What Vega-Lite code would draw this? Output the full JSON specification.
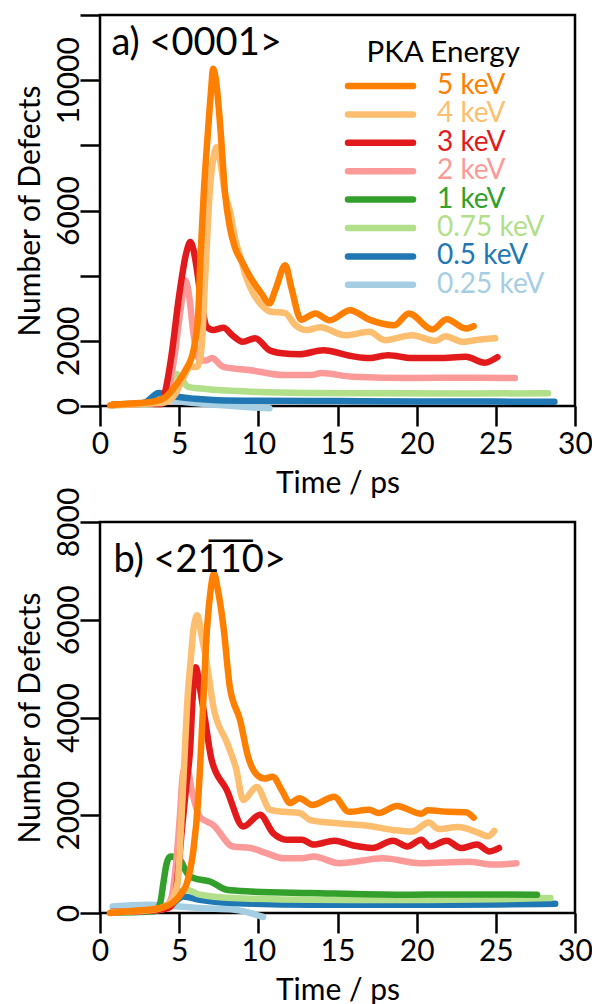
{
"$schema": "https://vega.github.io/schema/vega-lite/v6.json",
"padding": {"left": 13, "top": 12, "right": 2, "bottom": 12},
"bounds": "flush",
"spacing": 116,
"config": {
 "font": "Lato",
 "view": {"stroke": "black", "strokeWidth": 2.5},
 "axis": {"domain": false, "grid": false, "tickColor": "black", "tickWidth": 2.5, "tickSize": 20, "labelFont": "Lato", "labelFontSize": 30, "labelColor": "black", "titleFont": "Lato", "titleFontSize": 30, "titleFontWeight": "normal", "titleColor": "black", "labelFlush": false, "labelOverlap": false},
 "axisX": {"labelBaseline": "alphabetic", "labelPadding": 27, "titleBaseline": "alphabetic", "titleY": 86},
 "axisY": {"labelAngle": -90, "labelAlign": "center", "labelBaseline": "alphabetic", "labelPadding": 2, "titleBaseline": "alphabetic", "titleX": -61, "titleY": 195.5}
},
"datasets": {
"a": [
{"e":"0.25 keV","t":0.8,"v":40},{"e":"0.25 keV","t":1.5,"v":60},{"e":"0.25 keV","t":2.5,"v":80},{"e":"0.25 keV","t":3.2,"v":150},{"e":"0.25 keV","t":3.7,"v":220},{"e":"0.25 keV","t":4.3,"v":180},{"e":"0.25 keV","t":5.2,"v":130},{"e":"0.25 keV","t":6.5,"v":70},{"e":"0.25 keV","t":7.5,"v":30},{"e":"0.25 keV","t":8.4,"v":0},{"e":"0.25 keV","t":9.5,"v":-40},{"e":"0.25 keV","t":10.7,"v":-70},
{"e":"0.5 keV","t":0.8,"v":30},{"e":"0.5 keV","t":1.5,"v":50},{"e":"0.5 keV","t":2.5,"v":60},{"e":"0.5 keV","t":3.0,"v":150},{"e":"0.5 keV","t":3.4,"v":320},{"e":"0.5 keV","t":3.7,"v":400},{"e":"0.5 keV","t":4.1,"v":370},{"e":"0.5 keV","t":4.8,"v":290},{"e":"0.5 keV","t":6.0,"v":220},{"e":"0.5 keV","t":7.4,"v":180},{"e":"0.5 keV","t":10,"v":160},{"e":"0.5 keV","t":15,"v":150},{"e":"0.5 keV","t":20,"v":140},{"e":"0.5 keV","t":25,"v":135},{"e":"0.5 keV","t":28.7,"v":130},
{"e":"0.75 keV","t":0.8,"v":20},{"e":"0.75 keV","t":2.5,"v":50},{"e":"0.75 keV","t":3.5,"v":80},{"e":"0.75 keV","t":4.0,"v":250},{"e":"0.75 keV","t":4.4,"v":700},{"e":"0.75 keV","t":4.85,"v":980},{"e":"0.75 keV","t":5.2,"v":800},{"e":"0.75 keV","t":5.56,"v":590},{"e":"0.75 keV","t":6.7,"v":520},{"e":"0.75 keV","t":9.5,"v":440},{"e":"0.75 keV","t":13,"v":400},{"e":"0.75 keV","t":18,"v":390},{"e":"0.75 keV","t":23,"v":385},{"e":"0.75 keV","t":28.3,"v":390},
{"e":"2 keV","t":0.8,"v":30},{"e":"2 keV","t":2.5,"v":60},{"e":"2 keV","t":3.5,"v":100},{"e":"2 keV","t":4.2,"v":300},{"e":"2 keV","t":4.7,"v":1500},{"e":"2 keV","t":5.1,"v":3000},{"e":"2 keV","t":5.4,"v":3850},{"e":"2 keV","t":5.65,"v":3300},{"e":"2 keV","t":5.9,"v":2230},{"e":"2 keV","t":6.3,"v":1400},{"e":"2 keV","t":6.7,"v":1400},{"e":"2 keV","t":7.05,"v":1470},{"e":"2 keV","t":7.8,"v":1200},{"e":"2 keV","t":9.5,"v":1100},{"e":"2 keV","t":11.6,"v":950},{"e":"2 keV","t":13.3,"v":950},{"e":"2 keV","t":14.0,"v":1010},{"e":"2 keV","t":15.9,"v":900},{"e":"2 keV","t":19.7,"v":860},{"e":"2 keV","t":23,"v":870},{"e":"2 keV","t":26.2,"v":860},
{"e":"3 keV","t":0.8,"v":40},{"e":"3 keV","t":2.0,"v":60},{"e":"3 keV","t":3.0,"v":80},{"e":"3 keV","t":3.6,"v":60},{"e":"3 keV","t":3.9,"v":60},{"e":"3 keV","t":4.1,"v":400},{"e":"3 keV","t":4.5,"v":1500},{"e":"3 keV","t":5.0,"v":3400},{"e":"3 keV","t":5.45,"v":4700},{"e":"3 keV","t":5.7,"v":5030},{"e":"3 keV","t":5.9,"v":4800},{"e":"3 keV","t":6.1,"v":4260},{"e":"3 keV","t":6.4,"v":3200},{"e":"3 keV","t":6.74,"v":2430},{"e":"3 keV","t":7.15,"v":2330},{"e":"3 keV","t":7.8,"v":2400},{"e":"3 keV","t":8.4,"v":2150},{"e":"3 keV","t":9.0,"v":1970},{"e":"3 keV","t":9.8,"v":2080},{"e":"3 keV","t":10.7,"v":1710},{"e":"3 keV","t":11.5,"v":1620},{"e":"3 keV","t":12.6,"v":1590},{"e":"3 keV","t":14.1,"v":1710},{"e":"3 keV","t":15.9,"v":1530},{"e":"3 keV","t":17.0,"v":1470},{"e":"3 keV","t":18.2,"v":1560},{"e":"3 keV","t":19.7,"v":1470},{"e":"3 keV","t":21.4,"v":1470},{"e":"3 keV","t":23.1,"v":1510},{"e":"3 keV","t":24.3,"v":1330},{"e":"3 keV","t":25.1,"v":1500},
{"e":"4 keV","t":0.8,"v":30},{"e":"4 keV","t":2.5,"v":60},{"e":"4 keV","t":4.0,"v":100},{"e":"4 keV","t":4.8,"v":400},{"e":"4 keV","t":5.3,"v":900},{"e":"4 keV","t":5.7,"v":1200},{"e":"4 keV","t":6.1,"v":1200},{"e":"4 keV","t":6.3,"v":1400},{"e":"4 keV","t":6.45,"v":2000},{"e":"4 keV","t":6.6,"v":3500},{"e":"4 keV","t":6.74,"v":4877},{"e":"4 keV","t":6.95,"v":6710},{"e":"4 keV","t":7.2,"v":7700},{"e":"4 keV","t":7.37,"v":7940},{"e":"4 keV","t":7.6,"v":7500},{"e":"4 keV","t":7.9,"v":6500},{"e":"4 keV","t":8.2,"v":6000},{"e":"4 keV","t":8.6,"v":5000},{"e":"4 keV","t":8.85,"v":4600},{"e":"4 keV","t":9.2,"v":4000},{"e":"4 keV","t":9.67,"v":3460},{"e":"4 keV","t":10.2,"v":3100},{"e":"4 keV","t":10.74,"v":2900},{"e":"4 keV","t":11.7,"v":2850},{"e":"4 keV","t":12.3,"v":2500},{"e":"4 keV","t":13.06,"v":2330},{"e":"4 keV","t":13.9,"v":2420},{"e":"4 keV","t":15.5,"v":2170},{"e":"4 keV","t":17.0,"v":2275},{"e":"4 keV","t":18.0,"v":2020},{"e":"4 keV","t":19.7,"v":2170},{"e":"4 keV","t":21.2,"v":2000},{"e":"4 keV","t":21.8,"v":2140},{"e":"4 keV","t":22.9,"v":1970},{"e":"4 keV","t":24.0,"v":2040},{"e":"4 keV","t":24.96,"v":2080},
{"e":"5 keV","t":0.65,"v":20},{"e":"5 keV","t":1.5,"v":60},{"e":"5 keV","t":2.5,"v":90},{"e":"5 keV","t":3.5,"v":150},{"e":"5 keV","t":4.2,"v":300},{"e":"5 keV","t":4.8,"v":650},{"e":"5 keV","t":5.4,"v":1100},{"e":"5 keV","t":5.9,"v":1700},{"e":"5 keV","t":6.2,"v":2800},{"e":"5 keV","t":6.35,"v":4600},{"e":"5 keV","t":6.55,"v":6500},{"e":"5 keV","t":6.8,"v":8300},{"e":"5 keV","t":7.0,"v":9600},{"e":"5 keV","t":7.15,"v":10350},{"e":"5 keV","t":7.35,"v":9900},{"e":"5 keV","t":7.6,"v":8550},{"e":"5 keV","t":7.9,"v":6520},{"e":"5 keV","t":8.2,"v":5490},{"e":"5 keV","t":8.5,"v":4900},{"e":"5 keV","t":9.0,"v":4400},{"e":"5 keV","t":9.5,"v":3950},{"e":"5 keV","t":10.2,"v":3450},{"e":"5 keV","t":10.7,"v":3150},{"e":"5 keV","t":11.1,"v":3600},{"e":"5 keV","t":11.7,"v":4316},{"e":"5 keV","t":12.1,"v":3600},{"e":"5 keV","t":12.7,"v":2650},{"e":"5 keV","t":13.6,"v":2840},{"e":"5 keV","t":14.5,"v":2630},{"e":"5 keV","t":15.8,"v":2940},{"e":"5 keV","t":17.0,"v":2650},{"e":"5 keV","t":18.6,"v":2480},{"e":"5 keV","t":19.5,"v":2840},{"e":"5 keV","t":21.0,"v":2350},{"e":"5 keV","t":21.9,"v":2660},{"e":"5 keV","t":23.1,"v":2380},{"e":"5 keV","t":23.6,"v":2450}
],
"b": [
{"e":"0.25 keV","t":0.8,"v":135},{"e":"0.25 keV","t":2.0,"v":160},{"e":"0.25 keV","t":3.2,"v":170},{"e":"0.25 keV","t":4.2,"v":150},{"e":"0.25 keV","t":5.0,"v":135},{"e":"0.25 keV","t":6.3,"v":100},{"e":"0.25 keV","t":8.4,"v":70},{"e":"0.25 keV","t":9.5,"v":0},{"e":"0.25 keV","t":10.3,"v":-80},
{"e":"0.5 keV","t":0.8,"v":30},{"e":"0.5 keV","t":2.5,"v":40},{"e":"0.5 keV","t":3.5,"v":60},{"e":"0.5 keV","t":4.3,"v":120},{"e":"0.5 keV","t":4.8,"v":250},{"e":"0.5 keV","t":5.26,"v":340},{"e":"0.5 keV","t":6.3,"v":270},{"e":"0.5 keV","t":8.4,"v":205},{"e":"0.5 keV","t":13.3,"v":170},{"e":"0.5 keV","t":20,"v":170},{"e":"0.5 keV","t":25,"v":175},{"e":"0.5 keV","t":28.75,"v":190},
{"e":"0.75 keV","t":0.8,"v":20},{"e":"0.75 keV","t":3.0,"v":40},{"e":"0.75 keV","t":4.0,"v":80},{"e":"0.75 keV","t":4.5,"v":200},{"e":"0.75 keV","t":5.0,"v":420},{"e":"0.75 keV","t":5.47,"v":475},{"e":"0.75 keV","t":6.3,"v":375},{"e":"0.75 keV","t":8.4,"v":305},{"e":"0.75 keV","t":13.3,"v":270},{"e":"0.75 keV","t":20,"v":265},{"e":"0.75 keV","t":25,"v":280},{"e":"0.75 keV","t":28.45,"v":305},
{"e":"1 keV","t":0.8,"v":10},{"e":"1 keV","t":2.5,"v":20},{"e":"1 keV","t":3.5,"v":40},{"e":"1 keV","t":3.8,"v":200},{"e":"1 keV","t":4.0,"v":610},{"e":"1 keV","t":4.2,"v":1000},{"e":"1 keV","t":4.43,"v":1155},{"e":"1 keV","t":4.7,"v":1150},{"e":"1 keV","t":5.05,"v":1090},{"e":"1 keV","t":5.5,"v":815},{"e":"1 keV","t":5.9,"v":715},{"e":"1 keV","t":6.95,"v":645},{"e":"1 keV","t":8.0,"v":475},{"e":"1 keV","t":9.5,"v":440},{"e":"1 keV","t":13.3,"v":410},{"e":"1 keV","t":19.1,"v":375},{"e":"1 keV","t":22.3,"v":380},{"e":"1 keV","t":27.6,"v":375},
{"e":"2 keV","t":0.8,"v":20},{"e":"2 keV","t":3.0,"v":50},{"e":"2 keV","t":4.2,"v":150},{"e":"2 keV","t":4.5,"v":300},{"e":"2 keV","t":4.8,"v":1000},{"e":"2 keV","t":5.05,"v":2000},{"e":"2 keV","t":5.26,"v":2900},{"e":"2 keV","t":5.5,"v":2950},{"e":"2 keV","t":5.8,"v":2500},{"e":"2 keV","t":6.3,"v":1970},{"e":"2 keV","t":7.15,"v":1800},{"e":"2 keV","t":8.4,"v":1360},{"e":"2 keV","t":9.5,"v":1330},{"e":"2 keV","t":10.5,"v":1225},{"e":"2 keV","t":11.6,"v":1120},{"e":"2 keV","t":12.76,"v":1120},{"e":"2 keV","t":13.5,"v":1155},{"e":"2 keV","t":15.1,"v":1020},{"e":"2 keV","t":17.9,"v":1120},{"e":"2 keV","t":20.2,"v":1020},{"e":"2 keV","t":23.3,"v":1050},{"e":"2 keV","t":24.8,"v":990},{"e":"2 keV","t":26.3,"v":1020},
{"e":"3 keV","t":0.8,"v":20},{"e":"3 keV","t":3.0,"v":40},{"e":"3 keV","t":4.3,"v":100},{"e":"3 keV","t":4.7,"v":260},{"e":"3 keV","t":5.2,"v":1800},{"e":"3 keV","t":5.45,"v":2600},{"e":"3 keV","t":5.7,"v":3400},{"e":"3 keV","t":5.85,"v":4400},{"e":"3 keV","t":6.05,"v":5030},{"e":"3 keV","t":6.3,"v":4625},{"e":"3 keV","t":6.64,"v":3945},{"e":"3 keV","t":7.05,"v":3130},{"e":"3 keV","t":8.0,"v":2520},{"e":"3 keV","t":9.05,"v":1770},{"e":"3 keV","t":10.1,"v":2010},{"e":"3 keV","t":10.95,"v":1630},{"e":"3 keV","t":11.8,"v":1500},{"e":"3 keV","t":12.76,"v":1500},{"e":"3 keV","t":13.5,"v":1400},{"e":"3 keV","t":14.8,"v":1480},{"e":"3 keV","t":16.0,"v":1380},{"e":"3 keV","t":17.2,"v":1330},{"e":"3 keV","t":18.5,"v":1480},{"e":"3 keV","t":19.4,"v":1360},{"e":"3 keV","t":20.3,"v":1500},{"e":"3 keV","t":20.8,"v":1360},{"e":"3 keV","t":21.9,"v":1480},{"e":"3 keV","t":22.8,"v":1330},{"e":"3 keV","t":23.8,"v":1400},{"e":"3 keV","t":24.6,"v":1260},{"e":"3 keV","t":25.2,"v":1330},
{"e":"4 keV","t":0.8,"v":20},{"e":"4 keV","t":3.0,"v":50},{"e":"4 keV","t":4.2,"v":150},{"e":"4 keV","t":4.6,"v":300},{"e":"4 keV","t":4.9,"v":620},{"e":"4 keV","t":5.15,"v":1970},{"e":"4 keV","t":5.37,"v":3400},{"e":"4 keV","t":5.55,"v":4500},{"e":"4 keV","t":5.73,"v":5170},{"e":"4 keV","t":5.9,"v":5800},{"e":"4 keV","t":6.15,"v":6090},{"e":"4 keV","t":6.4,"v":5700},{"e":"4 keV","t":6.78,"v":5030},{"e":"4 keV","t":7.16,"v":4220},{"e":"4 keV","t":8.0,"v":3500},{"e":"4 keV","t":8.6,"v":2950},{"e":"4 keV","t":9.05,"v":2310},{"e":"4 keV","t":9.9,"v":2580},{"e":"4 keV","t":10.74,"v":2110},{"e":"4 keV","t":11.6,"v":2070},{"e":"4 keV","t":12.6,"v":2045},{"e":"4 keV","t":13.3,"v":1900},{"e":"4 keV","t":14.8,"v":1840},{"e":"4 keV","t":17.0,"v":1780},{"e":"4 keV","t":18.5,"v":1700},{"e":"4 keV","t":19.7,"v":1665},{"e":"4 keV","t":20.76,"v":1850},{"e":"4 keV","t":21.4,"v":1720},{"e":"4 keV","t":22.65,"v":1760},{"e":"4 keV","t":23.9,"v":1640},{"e":"4 keV","t":24.5,"v":1570},{"e":"4 keV","t":24.9,"v":1680},
{"e":"5 keV","t":0.63,"v":0},{"e":"5 keV","t":2.0,"v":40},{"e":"5 keV","t":3.2,"v":70},{"e":"5 keV","t":4.0,"v":120},{"e":"5 keV","t":4.6,"v":210},{"e":"5 keV","t":5.1,"v":380},{"e":"5 keV","t":5.5,"v":620},{"e":"5 keV","t":5.9,"v":1290},{"e":"5 keV","t":6.2,"v":2310},{"e":"5 keV","t":6.5,"v":4150},{"e":"5 keV","t":6.7,"v":5520},{"e":"5 keV","t":6.95,"v":6500},{"e":"5 keV","t":7.2,"v":6940},{"e":"5 keV","t":7.45,"v":6600},{"e":"5 keV","t":7.8,"v":5850},{"e":"5 keV","t":8.2,"v":4625},{"e":"5 keV","t":8.85,"v":3945},{"e":"5 keV","t":9.35,"v":3200},{"e":"5 keV","t":9.9,"v":2830},{"e":"5 keV","t":10.4,"v":2750},{"e":"5 keV","t":10.9,"v":2790},{"e":"5 keV","t":11.5,"v":2500},{"e":"5 keV","t":12.0,"v":2250},{"e":"5 keV","t":12.6,"v":2350},{"e":"5 keV","t":13.4,"v":2210},{"e":"5 keV","t":14.8,"v":2380},{"e":"5 keV","t":15.7,"v":2070},{"e":"5 keV","t":17.0,"v":2110},{"e":"5 keV","t":17.6,"v":2045},{"e":"5 keV","t":18.75,"v":2190},{"e":"5 keV","t":20.3,"v":2030},{"e":"5 keV","t":20.7,"v":2100},{"e":"5 keV","t":22.0,"v":2070},{"e":"5 keV","t":23.1,"v":2060},{"e":"5 keV","t":23.6,"v":1950}
]
},
"vconcat": [
{
 "width": 475, "height": 391,
 "layer": [
  {
   "data": {"name": "a"},
   "mark": {"type": "line", "strokeWidth": 6.5, "strokeCap": "round", "strokeJoin": "round", "interpolate": "monotone"},
   "encoding": {
    "x": {"field": "t", "type": "quantitative", "scale": {"domain": [0, 30], "nice": false, "zero": false}, "axis": {"values": [0, 5, 10, 15, 20, 25, 30], "title": "Time / ps"}},
    "y": {"field": "v", "type": "quantitative", "scale": {"domain": [0, 12000], "nice": false}, "axis": {"values": [0, 2000, 4000, 6000, 8000, 10000, 12000], "format": "d", "labelExpr": "datum.value == 4000 || datum.value == 8000 || datum.value == 12000 ? '' : datum.label", "title": "Number of Defects"}},
    "color": {"field": "e", "type": "nominal",
     "scale": {"domain": ["5 keV", "4 keV", "3 keV", "2 keV", "1 keV", "0.75 keV", "0.5 keV", "0.25 keV"], "range": ["#ff7f00", "#fdbf6f", "#e31a1c", "#fb9a99", "#33a02c", "#b2df8a", "#1f78b4", "#a6cee3"]},
     "legend": {"orient": "none", "legendX": 266.5, "legendY": 24, "padding": 0, "title": "PKA Energy", "titleFont": "Lato", "titleFontSize": 29.5, "titleFontWeight": "normal", "titleColor": "black", "titleAnchor": "start", "titleBaseline": "top", "titlePadding": 3.5, "labelFont": "Lato", "labelFontSize": 28, "labelOffset": 42.5, "symbolType": "M-6.5,0H6.5", "symbolSize": 100, "symbolStrokeWidth": 6.5, "rowPadding": 0.4,
      "encode": {"labels": {"update": {"fill": {"scale": "color", "field": "value"}}}, "symbols": {"update": {"strokeCap": {"value": "round"}}}}}}
   }
  },
  {
   "data": {"values": [{"label": "a) <0001>"}]},
   "mark": {"type": "text", "align": "left", "baseline": "alphabetic", "fontSize": 38, "font": "Lato", "color": "black"},
   "encoding": {"x": {"datum": 0.72, "type": "quantitative"}, "y": {"datum": 10776, "type": "quantitative"}, "text": {"field": "label"}}
  }
 ]
},
{
 "width": 475, "height": 391,
 "layer": [
  {
   "data": {"name": "b"},
   "mark": {"type": "line", "strokeWidth": 6.5, "strokeCap": "round", "strokeJoin": "round", "interpolate": "monotone"},
   "encoding": {
    "x": {"field": "t", "type": "quantitative", "scale": {"domain": [0, 30], "nice": false, "zero": false}, "axis": {"values": [0, 5, 10, 15, 20, 25, 30], "title": "Time / ps"}},
    "y": {"field": "v", "type": "quantitative", "scale": {"domain": [0, 8000], "nice": false}, "axis": {"values": [0, 2000, 4000, 6000, 8000], "format": "d", "title": "Number of Defects"}},
    "color": {"field": "e", "type": "nominal",
     "scale": {"domain": ["5 keV", "4 keV", "3 keV", "2 keV", "1 keV", "0.75 keV", "0.5 keV", "0.25 keV"], "range": ["#ff7f00", "#fdbf6f", "#e31a1c", "#fb9a99", "#33a02c", "#b2df8a", "#1f78b4", "#a6cee3"]},
     "legend": {"orient": "none", "legendX": 266.5, "legendY": 24, "padding": 0, "title": "PKA Energy", "titleFont": "Lato", "titleFontSize": 29.5, "titleFontWeight": "normal", "titleColor": "black", "titleAnchor": "start", "titleBaseline": "top", "titlePadding": 3.5, "labelFont": "Lato", "labelFontSize": 28, "labelOffset": 42.5, "symbolType": "M-6.5,0H6.5", "symbolSize": 100, "symbolStrokeWidth": 6.5, "rowPadding": 0.4,
      "encode": {"labels": {"update": {"fill": {"scale": "color", "field": "value"}}}, "symbols": {"update": {"strokeCap": {"value": "round"}}}}}}
   }
  },
  {
   "data": {"values": [{"label": "b) <21\u03051\u03050>"}]},
   "mark": {"type": "text", "align": "left", "baseline": "alphabetic", "fontSize": 38, "font": "Lato", "color": "black"},
   "encoding": {"x": {"datum": 0.85, "type": "quantitative"}, "y": {"datum": 6980, "type": "quantitative"}, "text": {"field": "label"}}
  }
 ]
}
]
}
